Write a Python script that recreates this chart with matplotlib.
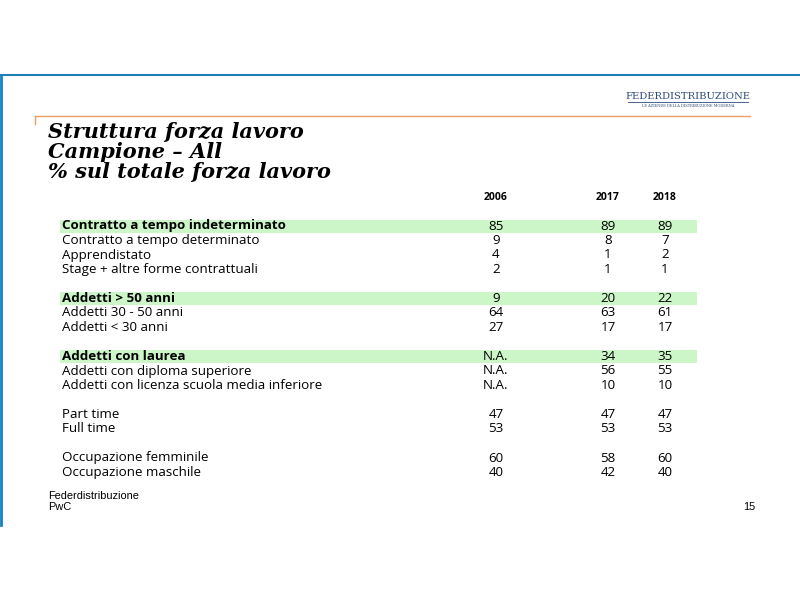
import numpy as np
import matplotlib.pyplot as plt

labels = ["Contratto a tempo indeterminato", "Contratto a tempo determinato",
          "Apprendistato", "Stage + altre forme contrattuali", None,
          "Addetti > 50 anni", "Addetti 30 - 50 anni", "Addetti < 30 anni", None,
          "Addetti con laurea", "Addetti con diploma superiore",
          "Addetti con licenza scuola media inferiore", None,
          "Part time", "Full time", None,
          "Occupazione femminile", "Occupazione maschile"]
v2006 = ["85", "9", "4", "2", None, "9", "64", "27", None,
         "N.A.", "N.A.", "N.A.", None, "47", "53", None, "60", "40"]
v2017 = ["89", "8", "1", "1", None, "20", "63", "17", None,
         "34", "56", "10", None, "47", "53", None, "58", "42"]
v2018 = ["89", "7", "2", "1", None, "22", "61", "17", None,
         "35", "55", "10", None, "47", "53", None, "60", "40"]
highlight = ["Contratto a tempo indeterminato", "Addetti > 50 anni", "Addetti con laurea"]
years = ["2006", "2017", "2018"]

title = "Struttura forza lavoro\nCampione – All\n% sul totale forza lavoro"

fig = plt.figure(figsize=(8, 6), dpi=100)
ax = fig.add_axes([0, 0, 1, 1])
ax.set_xlim(0, 800)
ax.set_ylim(600, 0)
ax.axis("off")

# slide frame
ax.plot([0, 800], [75, 75], color="#1f7fb8", lw=1.5)
ax.plot([1, 1], [75, 525], color="#1f7fb8", lw=2)
ax.plot([35, 750], [116, 116], color="#e8a060", lw=1)
ax.plot([35, 35], [116, 124], color="#e8a060", lw=1)

# logo
ax.text(688, 101, "FEDERDISTRIBUZIONE", ha="center", va="bottom", fontsize=7.2,
        family="DejaVu Serif", color="#2c4a78")
ax.plot([628, 748], [102, 102], color="#2c4a78", lw=0.6)
ax.text(688, 104, "LE AZIENDE DELLA DISTRIBUZIONE MODERNA", ha="center", va="top",
        fontsize=2.6, family="DejaVu Serif", color="#2c4a78")

ax.text(48, 122, title, ha="left", va="top", fontsize=15, fontweight="bold",
        fontstyle="italic", family="DejaVu Serif", linespacing=1.0, color="black")

xs = [496, 608, 665]
for x, yr in zip(xs, years):
    ax.text(x, 198, yr, ha="center", va="center", fontsize=7.5, fontweight="bold",
            family="Open Sans")

for i, lab in enumerate(labels):
    if lab is None:
        continue
    y = 226 + 14.5 * i
    bold = lab in highlight
    if bold:
        ax.add_patch(plt.Rectangle((60, y - 6.5), 637, 13, color="#ccf5c8", lw=0))
    ax.text(62, y, lab, ha="left", va="center", fontsize=9.6,
            fontweight="bold" if bold else "normal", family="Open Sans")
    for x, v in zip(xs, [v2006[i], v2017[i], v2018[i]]):
        ax.text(x, y, v, ha="center", va="center", fontsize=9.6, family="Open Sans")

# footer
ax.text(48, 496, "Federdistribuzione", ha="left", va="center", fontsize=7.9,
        family="Liberation Sans")
ax.text(48, 507, "PwC", ha="left", va="center", fontsize=7.9, family="Liberation Sans")
ax.text(755, 507, "15", ha="right", va="center", fontsize=7.9, family="Liberation Sans")

fig.savefig("out.png", dpi=100)
